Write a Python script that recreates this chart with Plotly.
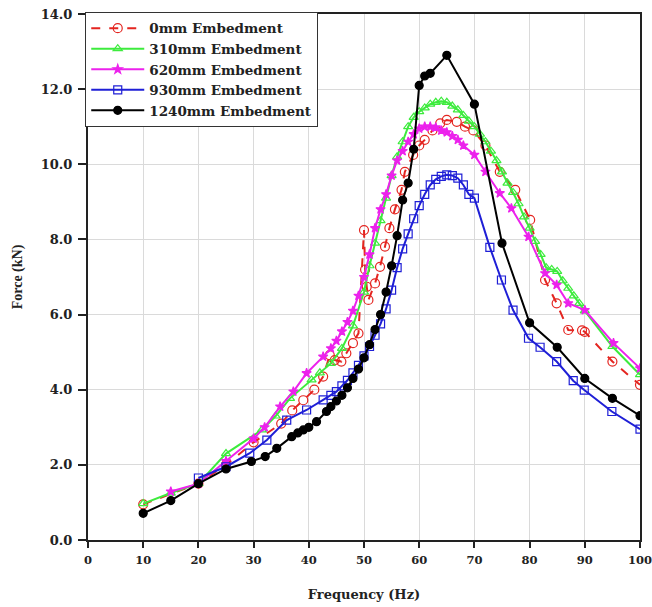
import plotly.graph_objects as go

# 0mm Embedment
x0 = [10, 20, 25, 30, 35, 37, 39, 41, 42.6, 43.8, 44.7, 45.9, 46.8, 48, 49, 50, 50.2, 50.5, 50.8, 52, 52.9, 53.8,
      54.6, 55.6, 56.8, 57.4, 58.9, 60, 61, 62.4, 63.8, 65, 66.8, 68.3, 69.8, 72, 74.6, 77.4, 80.1, 82.8, 84.9, 87,
      89.5, 90, 95, 100]
y0 = [0.95, 1.5, 2.0, 2.6, 3.1, 3.45, 3.72, 4.0, 4.35, 4.92, 4.79, 4.75, 4.97, 5.24, 5.5, 8.25, 7.2, 6.74, 6.39,
      6.83, 7.27, 7.81, 8.3, 8.8, 9.32, 9.8, 10.25, 10.5, 10.65, 10.9, 11.09, 11.18, 11.13, 11.0, 10.9, 10.5, 9.8,
      9.32, 8.52, 6.92, 6.3, 5.59, 5.58, 5.54, 4.75, 4.13]

# 310mm Embedment
x1 = [10, 15, 20, 25, 31.5, 34, 36.6, 40.5, 42, 44, 46, 48, 50, 51, 52, 53, 54, 55, 56, 57, 58, 59, 60, 61, 62,
      63, 64, 65, 66, 67, 68, 69, 70, 71, 72, 73, 74, 75, 76, 77, 78, 79, 80, 81, 82, 83, 84, 85, 86, 87, 88, 89,
      90, 95, 100]
y1 = [0.97, 1.25, 1.5, 2.3, 2.93, 3.3, 3.77, 4.26, 4.45, 4.7, 5.1, 5.7, 6.6, 7.3, 7.9, 8.5, 9.1, 9.7, 10.2, 10.6,
      11.0, 11.25, 11.4, 11.5, 11.6, 11.65, 11.68, 11.65, 11.55, 11.45, 11.3, 11.15, 11.0, 10.8, 10.6, 10.35, 10.1,
      9.8, 9.5, 9.25, 8.95, 8.6, 8.3, 7.95, 7.6, 7.25, 7.2, 7.15, 6.9, 6.7, 6.5, 6.3, 6.1, 5.15, 4.4]

# 620mm Embedment
x2 = [15, 20, 25, 30, 32, 34.8, 37.2, 39.6, 42.6, 44, 45, 46, 47, 48, 49, 50, 51, 52, 53, 54, 55, 56, 57, 58, 59,
      60, 61, 62, 63, 64, 65, 66, 67, 68, 70, 72, 74.6, 76.7, 79.8, 82.8, 84.9, 87, 90, 95.2, 100]
y2 = [1.29, 1.5, 2.1, 2.7, 3.0, 3.55, 3.95, 4.44, 4.88, 5.1, 5.3, 5.55, 5.8, 6.1, 6.5, 7.0, 7.6, 8.3, 8.8, 9.2,
      9.7, 10.1, 10.35, 10.6, 10.8, 10.95, 11.0, 11.0, 10.98, 10.9, 10.85, 10.75, 10.65, 10.5, 10.25, 9.8, 9.23,
      8.83, 8.07, 7.1, 6.79, 6.3, 6.12, 5.24, 4.57]

# 930mm Embedment
x3 = [20, 25, 29.3, 32.4, 36, 39.6, 42.6, 44, 45, 46, 47, 48, 49, 50, 51, 52, 53, 54, 55, 56, 57, 58, 59, 60, 61,
      62, 63, 64, 65, 66, 67, 68, 69, 70, 72.8, 74.9, 77, 79.8, 81.9, 84.9, 87.9, 89.9, 94.9, 100]
y3 = [1.65, 1.95, 2.31, 2.66, 3.19, 3.46, 3.73, 3.85, 3.95, 4.1, 4.25, 4.45, 4.65, 4.9, 5.15, 5.45, 5.75, 6.15,
      6.65, 7.25, 7.75, 8.15, 8.55, 8.9, 9.2, 9.45, 9.6, 9.68, 9.72, 9.7, 9.63, 9.45, 9.2, 9.1, 7.79, 6.92, 6.12,
      5.37, 5.13, 4.75, 4.24, 3.99, 3.42, 2.95]

# 1240mm Embedment
x4 = [10, 15, 20, 25, 29.6, 32.1, 34.2, 36.9, 38, 39, 40, 41.4, 43.2, 44, 45, 46, 47, 48, 49, 50, 51, 52, 53, 54,
      55, 56, 57, 58, 59, 60, 61, 62, 65, 70, 75, 80, 85, 90, 95, 100]
y4 = [0.71, 1.05, 1.5, 1.89, 2.09, 2.22, 2.44, 2.75, 2.85, 2.93, 3.0, 3.15, 3.42, 3.55, 3.7, 3.85, 4.05, 4.3, 4.55,
      4.85, 5.2, 5.6, 6.0, 6.6, 7.3, 8.1, 9.05, 9.5, 10.4, 12.1, 12.35, 12.42, 12.9, 11.6, 7.9, 5.78, 5.13, 4.3,
      3.77, 3.31]

names = ["0mm Embedment", "310mm Embedment", "620mm Embedment", "930mm Embedment", "1240mm Embedment"]
xticks = list(range(0, 101, 10))
yticks = [0, 2, 4, 6, 8, 10, 12, 14]

serif = "Liberation Serif, Times New Roman, serif"
wide = "DejaVu Serif, serif"

styles = [
    dict(color="#E42520", dash="dash", symbol="circle-open", size=9),
    dict(color="#3DEB3D", dash="solid", symbol="triangle-up-open", size=8),
    dict(color="#EC22EC", dash="solid", symbol="star", size=7),
    dict(color="#1F1FD6", dash="solid", symbol="square-open", size=8),
    dict(color="#000000", dash="solid", symbol="circle", size=8),
]

fig = go.Figure()
for xs, ys, nm, st in zip([x0, x1, x2, x3, x4], [y0, y1, y2, y3, y4], names, styles):
    fig.add_trace(go.Scatter(
        x=xs, y=ys, name=f"<b>{nm}</b>", mode="lines+markers",
        line=dict(color=st["color"], width=2, dash=st["dash"]),
        marker=dict(symbol=st["symbol"], size=st["size"], color=st["color"],
                    line=dict(color=st["color"], width=1.2)),
    ))

fig.update_layout(
    width=652, height=607,
    margin=dict(l=88, r=12, t=14, b=67, autoexpand=False),
    paper_bgcolor="white", plot_bgcolor="white",
    font=dict(family=wide, size=13, color="#222222"),
    showlegend=True,
    legend=dict(x=-0.005, y=1.004, xanchor="left", yanchor="top",
                bgcolor="white", bordercolor="#333333", borderwidth=1,
                font=dict(family=wide, size=13.5, color="#222222"),
                itemwidth=53, tracegroupgap=0),
)
fig.update_xaxes(
    range=[0, 100], tickvals=xticks, ticktext=[f"<b>{v}</b>" for v in xticks],
    tickfont=dict(family=wide, size=11.5),
    showgrid=True, gridcolor="#DADADA", gridwidth=1,
    showline=True, linecolor="#222222", linewidth=2, mirror=True,
    ticks="outside", ticklen=6, tickwidth=1.5, tickcolor="#222222",
    ticklabelstandoff=2, automargin=False, ticklabeloverflow="allow",
    title=dict(text="<b>Frequency (Hz)</b>", font=dict(family=wide, size=13), standoff=24),
    zeroline=False,
)
fig.update_yaxes(
    range=[0, 14], tickvals=yticks, ticktext=[f"<b>{v:.1f}</b>" for v in yticks],
    tickfont=dict(family=wide, size=13),
    showgrid=True, gridcolor="#DADADA", gridwidth=1,
    showline=True, linecolor="#222222", linewidth=2, mirror=True,
    ticks="outside", ticklen=8, tickwidth=1.5, tickcolor="#222222",
    ticklabelstandoff=3, automargin=False, ticklabeloverflow="allow",
    title=dict(text="<b>Force (kN)</b>", font=dict(family=serif, size=14)),
    zeroline=False,
)

fig.write_html(
    "out.html",
    config={"displayModeBar": False},
    post_script="document.body.style.margin='0';document.body.style.overflow='hidden';",
)
